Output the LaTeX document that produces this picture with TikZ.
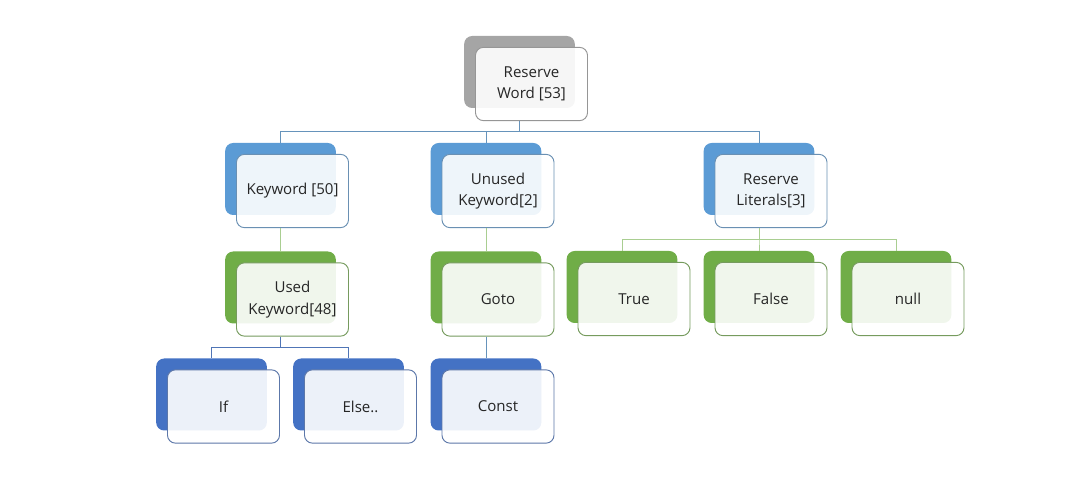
\documentclass[tikz,border=0pt]{standalone}
\usepackage{fontspec}
\setmainfont{Open Sans}
\usepackage{tikz}

\definecolor{rootgrey}{HTML}{A5A5A5}
\definecolor{midblue}{HTML}{5B9BD5}
\definecolor{leafgreen}{HTML}{70AD47}
\definecolor{deepblue}{HTML}{4472C4}

\tikzset{
  backbox/.style={fill=#1, rounded corners=6pt, minimum width=83pt,
    minimum height=54pt, inner sep=0pt},
  frontbox/.style={draw=#1, line width=0.7pt, fill=white, fill opacity=0.9,
    text opacity=1, rounded corners=6pt, minimum width=84pt,
    minimum height=55pt, inner sep=0pt, align=center, text=black!85,
    font=\fontsize{11.3}{16}\selectfont},
  link/.style={draw=#1, line width=0.7pt}
}

\begin{document}
\begin{tikzpicture}[x=0.75pt,y=-0.75pt]
      \useasboundingbox (0,0) rectangle (1079,488);

      % boxes: back tile, then the front card with the text
      \foreach \n/\x/\y/\c/\t in {
        rw/519.5/72/rootgrey/{Reserve\\Word [53]},
        kw/280.5/179/midblue/{Keyword [50]},
        uk/486/179/midblue/{Unused\\Keyword[2]},
        rl/759/179/midblue/{Reserve\\Literals[3]},
        used/280.5/287.5/leafgreen/{Used\\Keyword[48]},
        goto/486/287.5/leafgreen/{Goto},
        tr/622/287/leafgreen/{True},
        fa/759/287/leafgreen/{False},
        nu/896/287/leafgreen/{null},
        if/211.5/394.5/deepblue/{If},
        el/348.5/394.5/deepblue/{Else..},
        co/486/394.5/deepblue/{Const}}
      {
        \node [backbox=\c] (\n) at (\x,\y) {};
        \node [frontbox=\c!60!gray] (\n-f) at (\x+12,\y+12) {\t};
      }

      % connectors
      \foreach \k in {kw,uk,rl}
        \draw [link=midblue!70!gray] (rw-f.south -| rw) -- ++(0,10) -| (\k.north);
      \foreach \k in {tr,fa,nu}
        \draw [link=leafgreen!60] (rl-f.south -| rl) -- ++(0,11) -| (\k.north);
      \foreach \k in {if,el}
        \draw [link=deepblue!80!gray] (used-f.south -| used) -- ++(0,11) -| (\k.north);
      \draw [link=leafgreen!60] (kw-f.south -| kw) -- (used.north);
      \draw [link=leafgreen!60] (uk-f.south -| uk) -- (goto.north);
      \draw [link=midblue!70!gray] (goto-f.south -| goto) -- (co.north);
\end{tikzpicture}
\end{document}
